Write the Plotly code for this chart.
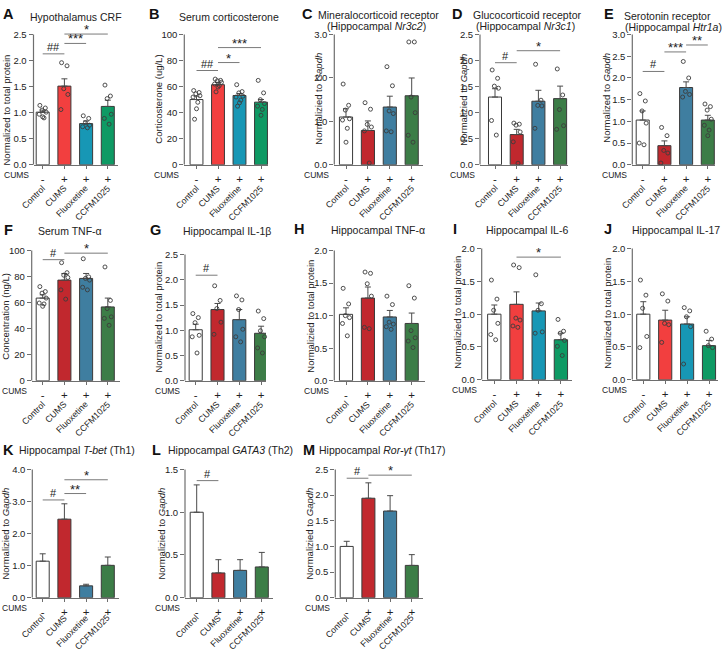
import plotly.graph_objects as go

W, H = 722, 654
GROUPS = ["Control", "CUMS", "Fluoxetine", "CCFM1025"]
CUMS_SIGN = ["-", "+", "+", "+"]

# ---------------- data ----------------
A_mean = [1.01, 1.51, 0.79, 1.12]
A_sem = [0.04, 0.14, 0.05, 0.12]
A_pts = [[1.14, 1.09, 1.05, 1.01, 0.97, 0.90, 0.92],
         [1.96, 1.90, 1.46, 1.35, 1.06],
         [0.94, 0.89, 0.81, 0.76, 0.73, 0.71],
         [1.53, 1.32, 1.27, 0.97, 0.89, 0.78]]
A_sig = [(0, 1, 2.13, "##"), (1, 2, 2.33, "***"), (1, 3, 2.51, "*")]
A_ticks = [0, 0.5, 1.0, 1.5, 2.0, 2.5]

B_mean = [50.1, 61.5, 53.2, 48.1]
B_sem = [2.6, 1.8, 1.5, 2.0]
B_pts = [[57, 55.5, 54.5, 53, 52, 48, 43, 35],
         [65.8, 64.8, 64.5, 63.3, 62, 60.8, 59.7, 56],
         [61.5, 56.2, 55.2, 52.7, 52, 49.6, 47.6, 45],
         [64.8, 55.2, 50, 47, 45, 42.5, 38]]
B_sig = [(0, 1, 72.4, "##"), (1, 2, 78.5, "*"), (1, 3, 90, "***")]
B_ticks = [0, 20, 40, 60, 80, 100]

C_mean = [1.10, 0.79, 1.33, 1.59]
C_sem = [0.19, 0.22, 0.25, 0.41]
C_pts = [[1.86, 1.37, 1.26, 1.06, 1.03, 0.84, 0.52],
         [1.43, 1.28, 0.93, 0.87, 0.78, 0.04],
         [2.26, 1.82, 1.24, 1.18, 0.78, 0.76],
         [2.83, 2.83, 1.56, 1.20, 0.68, 0.52]]
C_sig = []
C_ticks = [0, 1.0, 2.0, 3.0]

D_mean = [1.30, 0.58, 1.22, 1.27]
D_sem = [0.16, 0.10, 0.21, 0.24]
D_pts = [[1.82, 1.66, 1.51, 1.47, 0.85, 0.57],
         [0.80, 0.78, 0.76, 0.63, 0.44, 0.03],
         [1.93, 1.24, 1.14, 1.13, 0.70],
         [1.84, 1.34, 1.06, 0.75, 0.68]]
D_sig = [(0, 1, 1.96, "#"), (1, 3, 2.19, "*")]
D_ticks = [0, 0.5, 1.0, 1.5, 2.0, 2.5]

E_mean = [1.03, 0.44, 1.78, 1.03]
E_sem = [0.21, 0.11, 0.13, 0.11]
E_pts = [[1.64, 1.47, 1.24, 0.96, 0.50, 0.46],
         [0.86, 0.67, 0.33, 0.27, 0.04],
         [2.38, 2.00, 1.69, 1.62, 1.56],
         [1.40, 1.34, 1.26, 1.05, 0.91, 0.80, 0.67]]
E_sig = [(0, 1, 2.15, "#"), (1, 2, 2.6, "***"), (2, 3, 2.76, "**")]
E_ticks = [0, 0.5, 1.0, 1.5, 2.0, 2.5, 3.0]

F_mean = [63.5, 77.3, 78.6, 56.7]
F_sem = [2.5, 5.1, 3.8, 6.8]
F_pts = [[72.3, 68.5, 67.3, 63.5, 59.7, 59, 57.2],
         [90.7, 83, 81.1, 79.3, 69.8, 62.7],
         [93.7, 79.8, 78.6, 77.3, 71.8, 69.8],
         [87.4, 61.7, 55.4, 49.1, 47.9, 42.6]]
F_sig = [(0, 1, 93, "#"), (1, 3, 98, "*")]
F_ticks = [0, 20, 40, 60, 80, 100]

G_mean = [1.01, 1.41, 1.21, 0.94]
G_sem = [0.11, 0.12, 0.20, 0.14]
G_pts = [[1.33, 1.25, 1.15, 0.90, 0.87, 0.55],
         [1.88, 1.59, 1.43, 1.16, 0.92],
         [1.68, 1.60, 1.41, 1.02, 0.87, 0.77],
         [1.38, 1.23, 0.99, 0.87, 0.65, 0.55]]
G_sig = [(0, 1, 2.09, "#")]
G_ticks = [0, 0.5, 1.0, 1.5, 2.0, 2.5]

H_mean = [1.02, 1.27, 0.98, 0.88]
H_sem = [0.10, 0.17, 0.10, 0.16]
H_pts = [[1.42, 1.18, 1.00, 0.97, 0.88, 0.69],
         [1.67, 1.65, 1.49, 1.30, 0.82, 0.80],
         [1.30, 1.17, 0.90, 0.87, 0.83, 0.79],
         [1.46, 1.27, 0.77, 0.66, 0.61, 0.51]]
H_sig = []
H_ticks = [0, 0.5, 1.0, 1.5, 2.0]

I_mean = [1.00, 1.15, 1.05, 0.61]
I_sem = [0.14, 0.19, 0.12, 0.10]
I_pts = [[1.52, 1.23, 1.06, 0.86, 0.69, 0.61],
         [1.75, 1.71, 0.94, 0.91, 0.82, 0.80],
         [1.60, 1.16, 1.06, 0.73, 0.71],
         [0.92, 0.74, 0.71, 0.60, 0.51, 0.37]]
I_sig = [(1, 3, 1.87, "*")]
I_ticks = [0, 0.5, 1.0, 1.5, 2.0]

J_mean = [1.00, 0.91, 0.85, 0.52]
J_sem = [0.19, 0.15, 0.11, 0.08]
J_pts = [[1.52, 1.29, 1.09, 0.66, 0.49],
         [1.31, 1.20, 0.86, 0.84, 0.57],
         [1.10, 1.05, 0.96, 0.81, 0.24],
         [0.74, 0.62, 0.52, 0.49]]
J_sig = []
J_ticks = [0, 0.5, 1.0, 1.5, 2.0]

K_mean = [1.14, 2.45, 0.37, 1.01]
K_sem = [0.23, 0.48, 0.05, 0.26]
K_sig = [(0, 1, 3.05, "#"), (1, 2, 3.25, "**"), (1, 3, 3.68, "*")]
K_ticks = [0, 1.0, 2.0, 3.0, 4.0]

L_mean = [1.00, 0.29, 0.32, 0.36]
L_sem = [0.32, 0.155, 0.125, 0.17]
L_sig = [(0, 1, 1.37, "#")]
L_ticks = [0, 0.5, 1.0, 1.5]

M_mean = [1.00, 1.94, 1.69, 0.63]
M_sem = [0.10, 0.30, 0.30, 0.21]
M_sig = [(0, 1, 2.33, "#"), (1, 3, 2.39, "*")]
M_ticks = [0, 0.5, 1.0, 1.5, 2.0, 2.5]

# ---------------- styling ----------------
FONT = "Liberation Sans, Arial, sans-serif"
TXT = "#222222"
AX = "#6e6e6e"
EDGE = "#3a3a3a"
ERR = "#4a4a4a"
PTC = "#3c3c3c"
BRIGHT = ["#ffffff", "#f23f3f", "#1797b5", "#0e9a64"]
DARK = ["#ffffff", "#c1282e", "#3f7ea0", "#3c7d47"]
JIT = [-0.13, 0.12, -0.03, 0.16, -0.16, 0.06, 0.0, -0.09]

NT = "Normalized to total protein"
NIT = "Normalizied to total protein"
NG = "Normalized to <i>Gapdh</i>"
NIG = "Normalizied to <i>Gapdh</i>"

panels = [
    dict(L="A", mean=A_mean, sem=A_sem, pts=A_pts, sig=A_sig, ticks=A_ticks, fmt="{:.1f}", yt=NT,
         col=BRIGHT, geo=(33.5, 118.3, 31, 163, 42.7, 21.7), ytp=(7, 108), lp=(1, 10),
         titles=[("Hypothalamus CRF", 76, 13, "center")]),
    dict(L="B", mean=B_mean, sem=B_sem, pts=B_pts, sig=B_sig, ticks=B_ticks, fmt="{:.0f}", yt="Corticosterone (ug/L)",
         col=BRIGHT, geo=(184.3, 268, 31, 163, 196.5, 21.5), ytp=(159, 97), lp=(147, 10),
         titles=[("Serum corticosterone", 229, 13, "center")]),
    dict(L="C", mean=C_mean, sem=C_sem, pts=C_pts, sig=C_sig, ticks=C_ticks, fmt="{:.1f}", yt=NIG,
         col=DARK, geo=(334.3, 423.3, 31, 163, 346, 21.9), ytp=(319, 96), lp=(300, 10),
         titles=[("Mineralocorticoid receptor", 378, 11, "center"),
                 ("(Hippocampal <i>Nr3c2</i>)", 376, 22.5, "center")]),
    dict(L="D", mean=D_mean, sem=D_sem, pts=D_pts, sig=D_sig, ticks=D_ticks, fmt="{:.1f}", yt=NIG,
         col=DARK, geo=(480, 568.3, 31, 163, 495, 21.7), ytp=(464, 97), lp=(450, 10),
         titles=[("Glucocorticoid receptor", 527, 11, "center"),
                 ("(Hippocampal <i>Nr3c1</i>)", 525, 22.5, "center")]),
    dict(L="E", mean=E_mean, sem=E_sem, pts=E_pts, sig=E_sig, ticks=E_ticks, fmt="{:.1f}", yt=NG,
         col=DARK, geo=(632.3, 715, 31, 163, 642.7, 21.7), ytp=(607, 95), lp=(602, 10),
         titles=[("Serotonin receptor", 667, 12, "center"),
                 ("(Hippocampal <i>Htr1a</i>)", 673, 23, "center")]),
    dict(L="F", mean=F_mean, sem=F_sem, pts=F_pts, sig=F_sig, ticks=F_ticks, fmt="{:.0f}", yt="Concentration (ng/L)",
         col=DARK, geo=(31.7, 120, 250, 382, 42.7, 21.7), ytp=(6, 317), lp=(2, 229),
         titles=[("Serum TNF-α", 70, 230, "center")]),
    dict(L="G", mean=G_mean, sem=G_sem, pts=G_pts, sig=G_sig, ticks=G_ticks, fmt="{:.1f}", yt=NT,
         col=DARK, geo=(185, 266, 254, 382, 195.7, 21.8), ytp=(159, 318), lp=(148, 229),
         titles=[("Hippocampal IL-1β", 227, 230, "center")]),
    dict(L="H", mean=H_mean, sem=H_sem, pts=H_pts, sig=H_sig, ticks=H_ticks, fmt="{:.1f}", yt=NIT,
         col=DARK, geo=(334.3, 425, 250, 382, 346, 21.9), ytp=(311, 317), lp=(292, 228),
         titles=[("Hippocampal TNF-α", 378, 229, "center")]),
    dict(L="I", mean=I_mean, sem=I_sem, pts=I_pts, sig=I_sig, ticks=I_ticks, fmt="{:.1f}", yt=NIT,
         col=BRIGHT, geo=(481.7, 571.7, 248, 381, 494.3, 22.2), ytp=(458, 313), lp=(451, 228),
         titles=[("Hippocampal IL-6", 527, 229, "center")]),
    dict(L="J", mean=J_mean, sem=J_sem, pts=J_pts, sig=J_sig, ticks=J_ticks, fmt="{:.1f}", yt=NT,
         col=BRIGHT, geo=(632.3, 718, 248, 381, 643.3, 21.9), ytp=(608, 314), lp=(602, 228),
         titles=[("Hippocampal IL-17", 676, 229, "center")]),
    dict(L="K", mean=K_mean, sem=K_sem, pts=None, sig=K_sig, ticks=K_ticks, fmt="{:.1f}", yt=NIG,
         col=DARK, geo=(32.3, 119, 472, 602, 42.7, 21.7), ytp=(6, 537), lp=(1, 452),
         titles=[("Hippocampal <i>T-bet</i> (Th1)", 17, 452, "left")]),
    dict(L="L", mean=L_mean, sem=L_sem, pts=None, sig=L_sig, ticks=L_ticks, fmt="{:.1f}", yt=NIG,
         col=DARK, geo=(185, 273.3, 472, 602, 196.7, 21.7), ytp=(162, 537), lp=(150, 452),
         titles=[("Hippocampal <i>GATA3</i> (Th2)", 166, 452, "left")]),
    dict(L="M", mean=M_mean, sem=M_sem, pts=None, sig=M_sig, ticks=M_ticks, fmt="{:.1f}", yt=NIG,
         col=DARK, geo=(335.3, 422.7, 472, 602, 346.7, 21.7), ytp=(310, 537), lp=(301, 452),
         titles=[("Hippocampal <i>Ror-γt</i> (Th17)", 317, 452, "left")]),
]


def px(x):
    return x / W


def py(y):
    return 1 - y / H


fig = go.Figure()
layout = {}
annotations = []
shapes = []

for idx, p in enumerate(panels, start=1):
    sx = "" if idx == 1 else str(idx)
    xa, ya = "x" + sx, "y" + sx
    left, right, top, bottom, c0, s = p["geo"]
    xr = [-(c0 - left) / s, 3 + (right - (c0 + 3 * s)) / s]
    ytop = p["ticks"][-1]
    maxsig = max([g[2] for g in p["sig"]], default=0)
    ymax = max(ytop * 1.01, maxsig * 1.04)
    domtop = bottom - (bottom - top) * ymax / ytop

    layout["xaxis" + sx] = dict(
        domain=[px(left), px(right)], range=xr, anchor=ya,
        tickmode="array", tickvals=[0, 1, 2, 3], ticktext=CUMS_SIGN,
        ticks="outside", ticklen=3, tickwidth=1, tickcolor=AX,
        showline=True, linecolor=AX, linewidth=1.2,
        showgrid=False, zeroline=False, fixedrange=True,
        tickfont=dict(size=11.5, color=TXT, family=FONT))
    layout["yaxis" + sx] = dict(
        domain=[py(bottom), py(domtop)], range=[0, ymax], anchor=xa,
        tickmode="array", tickvals=p["ticks"], ticktext=[p["fmt"].format(v) for v in p["ticks"]],
        ticks="outside", ticklen=4, tickwidth=1, tickcolor=AX,
        showline=False, showgrid=False, zeroline=False, fixedrange=True,
        tickfont=dict(size=9.5, color=TXT, family=FONT))

    # y axis line ending at the top tick
    shapes.append(dict(type="line", xref=xa + " domain", yref=ya, x0=0, x1=0, y0=0, y1=ytop,
                       line=dict(color=AX, width=1.2), layer="above"))

    fig.add_trace(go.Bar(
        x=[0, 1, 2, 3], y=p["mean"], width=0.6,
        marker=dict(color=p["col"], line=dict(color=EDGE, width=1)),
        error_y=dict(type="data", array=p["sem"], arrayminus=[0, 0, 0, 0], symmetric=False,
                     color=ERR, thickness=1, width=3),
        xaxis=xa, yaxis=ya, showlegend=False, hoverinfo="skip"))

    if p["pts"] is not None:
        for i, arr in enumerate(p["pts"]):
            fig.add_trace(go.Scatter(
                x=[i + JIT[k % len(JIT)] for k in range(len(arr))], y=arr, mode="markers",
                marker=dict(symbol="circle-open", size=4, color=PTC, line=dict(width=0.9)),
                xaxis=xa, yaxis=ya, showlegend=False, hoverinfo="skip", cliponaxis=False))

    for (i, j, yv, txt) in p["sig"]:
        fig.add_trace(go.Scatter(
            x=[i, j], y=[yv, yv], mode="lines", line=dict(color="#7a7a7a", width=1),
            xaxis=xa, yaxis=ya, showlegend=False, hoverinfo="skip"))
        star = "*" in txt
        annotations.append(dict(
            x=(i + j) / 2, y=yv, xref=xa, yref=ya, text=txt, showarrow=False,
            xanchor="center", yanchor="bottom", yshift=-5 if star else -1,
            font=dict(size=13 if star else 11, color=TXT, family=FONT)))

    # CUMS row label
    annotations.append(dict(x=px(left - 3), y=py(bottom + 10.5), xref="paper", yref="paper",
                            text="CUMS", showarrow=False, xanchor="right", yanchor="middle",
                            font=dict(size=8.5, color=TXT, family=FONT)))
    # rotated group names (anchored just right of each bar's centre)
    off = 12.5 if bottom > 550 else 16
    for i, g in enumerate(GROUPS):
        annotations.append(dict(x=px(c0 + i * s + 7), y=py(bottom + off), xref="paper", yref="paper",
                                text=g, showarrow=False, textangle=-45,
                                xanchor="right", yanchor="top",
                                font=dict(size=8.8, color=TXT, family=FONT)))
    # y axis title
    annotations.append(dict(x=px(p["ytp"][0]), y=py(p["ytp"][1]), xref="paper", yref="paper",
                            text=p["yt"], showarrow=False, textangle=-90,
                            xanchor="center", yanchor="middle",
                            font=dict(size=9.5, color=TXT, family=FONT)))
    # panel letter
    annotations.append(dict(x=px(p["lp"][0]), y=py(p["lp"][1]), xref="paper", yref="paper",
                            text="<b>%s</b>" % p["L"], showarrow=False,
                            xanchor="left", yanchor="middle",
                            font=dict(size=14.5, color="#111111", family=FONT)))
    # titles
    for (t, tx, ty, anc) in p["titles"]:
        annotations.append(dict(x=px(tx), y=py(ty), xref="paper", yref="paper",
                                text=t, showarrow=False, xanchor=anc, yanchor="middle",
                                font=dict(size=10.5, color=TXT, family=FONT)))

layout.update(dict(
    width=W, height=H, margin=dict(l=0, r=0, t=0, b=0),
    paper_bgcolor="white", plot_bgcolor="white",
    font=dict(family=FONT, color=TXT),
    annotations=annotations, shapes=shapes, bargap=0.4,
))
fig.update_layout(**layout)
fig.write_html("out.html", config={"displayModeBar": False},
               post_script="document.body.style.margin='0';document.body.style.overflow='hidden';")
